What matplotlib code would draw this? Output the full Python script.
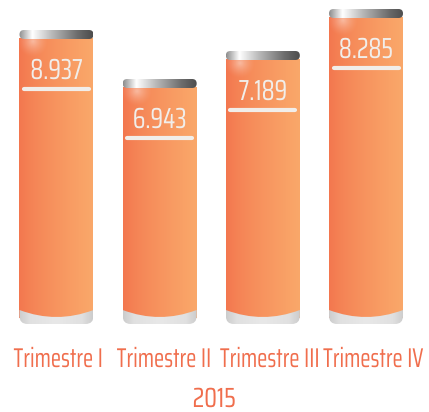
import numpy as np
import matplotlib
matplotlib.use("Agg")
import matplotlib.pyplot as plt
from matplotlib.patches import FancyBboxPatch, PathPatch
from matplotlib.path import Path
from matplotlib.patheffects import AbstractPathEffect
from matplotlib.transforms import Affine2D

# ---- data ----
categories = ["Trimestre I", "Trimestre II", "Trimestre III", "Trimestre IV"]
value_labels = ["8.937", "6.943", "7.189", "8.285"]
bar_heights = [8.40, 7.00, 7.80, 9.00]   # drawn heights
year_label = "2015"

# ---- geometry (pixel based) ----
W, H = 429, 412
PXX = 1 / 103.17   # x data units per pixel
PXY = 1 / 35.0     # y data units per pixel
BAR_W_PX = 74
FONT = ["Saira Condensed", "DejaVu Sans"]
LABEL_COLOR = "#F06E4D"
VALUE_COLOR = "#F1EEEA"


class VStretch(AbstractPathEffect):
    def __init__(self, sy):
        super().__init__()
        self.sy = sy

    def draw_path(self, renderer, gc, tpath, affine, rgbFace=None):
        renderer.draw_path(gc, tpath, Affine2D().scale(1, self.sy) + affine, rgbFace)


fig = plt.figure(figsize=(W / 100, H / 100), dpi=100)
ax = fig.add_axes([0, 88 / H, 1, 324 / H])
ax.axis("off")

x = np.arange(len(categories))
bw = BAR_W_PX * PXX

# body bars
body_bottom = 6 * PXY
body_tops = np.array(bar_heights) - 8 * PXY
bars = ax.bar(x, body_tops - body_bottom, bottom=body_bottom, width=bw,
              color="none", edgecolor="none", zorder=1)

# gradients
t = np.linspace(0, 1, 256)
c_left = np.array([243, 118, 78]) / 255
c_right = np.array([250, 168, 106]) / 255
tt = t ** 0.75
body_grad = (c_left[None, :] * (1 - tt[:, None]) + c_right[None, :] * tt[:, None])[None, :, :]

cap_pos = [0.0, 0.18, 0.45, 0.8, 1.0]
cap_val = [0.55, 1.0, 0.72, 0.42, 0.30]
cap_g = np.interp(t, cap_pos, cap_val)
cap_grad = np.stack([cap_g] * 3, axis=-1)[None, :, :]

base_pos = [0.0, 0.15, 0.5, 0.85, 1.0]
base_val = [0.80, 0.88, 0.91, 0.88, 0.80]
base_g = np.interp(t, base_pos, base_val)
base_grad = np.stack([base_g] * 3, axis=-1)[None, :, :]

# radial glow
gy, gx = np.mgrid[-1:1:64j, -1:1:64j]
rr = np.sqrt(gx ** 2 + gy ** 2)
glow = np.zeros((64, 64, 4))
glow[..., :3] = 1.0
glow[..., 3] = np.clip(1 - rr, 0, 1) ** 1.5 * 0.45

for i, bar in enumerate(bars):
    left = bar.get_x()
    right = left + bw
    h = bar_heights[i]
    # body gradient
    im = ax.imshow(body_grad, extent=(left, right, body_bottom, body_tops[i]),
                   aspect="auto", interpolation="bilinear", zorder=1)
    im.set_clip_path(bar)
    # glow
    gcx, gcy = left + 14 * PXX, h - 12 * PXY
    g = ax.imshow(glow, extent=(gcx - 16 * PXX, gcx + 16 * PXX, gcy - 16 * PXY, gcy + 16 * PXY),
                  aspect="auto", interpolation="bilinear", zorder=2)
    g.set_clip_path(bar)

    # cap
    cap = FancyBboxPatch((left, h - 9 * PXY), bw, 9 * PXY,
                         boxstyle=f"round,pad=0,rounding_size={4.5 * PXX}",
                         mutation_aspect=PXY / PXX,
                         facecolor="none", edgecolor="none", zorder=3)
    ax.add_patch(cap)
    ci = ax.imshow(cap_grad, extent=(left, right, h - 9 * PXY, h),
                   aspect="auto", interpolation="bilinear", zorder=3)
    ci.set_clip_path(cap)

    # base with concave top
    w = BAR_W_PX
    r = 8
    verts_px = [(0, 14), (0, r), (0, 0), (r, 0), (w - r, 0), (w, 0), (w, r),
                (w, 14), (w / 2, 0), (0, 14), (0, 14)]
    codes = [Path.MOVETO, Path.LINETO, Path.CURVE3, Path.CURVE3, Path.LINETO,
             Path.CURVE3, Path.CURVE3, Path.LINETO, Path.CURVE3, Path.CURVE3,
             Path.CLOSEPOLY]
    verts = [(left + vx * PXX, vy * PXY) for vx, vy in verts_px]
    base = PathPatch(Path(verts, codes), facecolor="none", edgecolor="none", zorder=4)
    ax.add_patch(base)
    bi = ax.imshow(base_grad, extent=(left, right, 0, 14 * PXY),
                   aspect="auto", interpolation="bilinear", zorder=4)
    bi.set_clip_path(base)

    # value text + underline
    cx = bar.get_x() + bw / 2
    ax.text(cx, h - 49 * PXY, value_labels[i], ha="center", va="baseline",
            fontsize=19, color=VALUE_COLOR, family=FONT, weight="normal", zorder=5,
            path_effects=[VStretch(1.1)])
    ax.plot([left + 4.5 * PXX, right - 4.5 * PXX], [h - 59 * PXY] * 2,
            color=VALUE_COLOR, lw=3.0, solid_capstyle="round", zorder=5)

    # category label
    ax.text(left - 6 * PXX, -43 * PXY, categories[i], ha="left", va="baseline",
            fontsize=17, color=LABEL_COLOR, family=FONT, clip_on=False,
            path_effects=[VStretch(1.15)])

ax.text(0.5 * (x[0] + x[-1]) + 3 * PXX, -83 * PXY, year_label, ha="center", va="baseline",
        fontsize=19, color=LABEL_COLOR, family=FONT, clip_on=False,
        path_effects=[VStretch(1.05)])

ax.set_xlim(-56.5 * PXX, (W - 56.5) * PXX)
ax.set_ylim(0, 324 * PXY)

fig.savefig("out.png", dpi=100)
